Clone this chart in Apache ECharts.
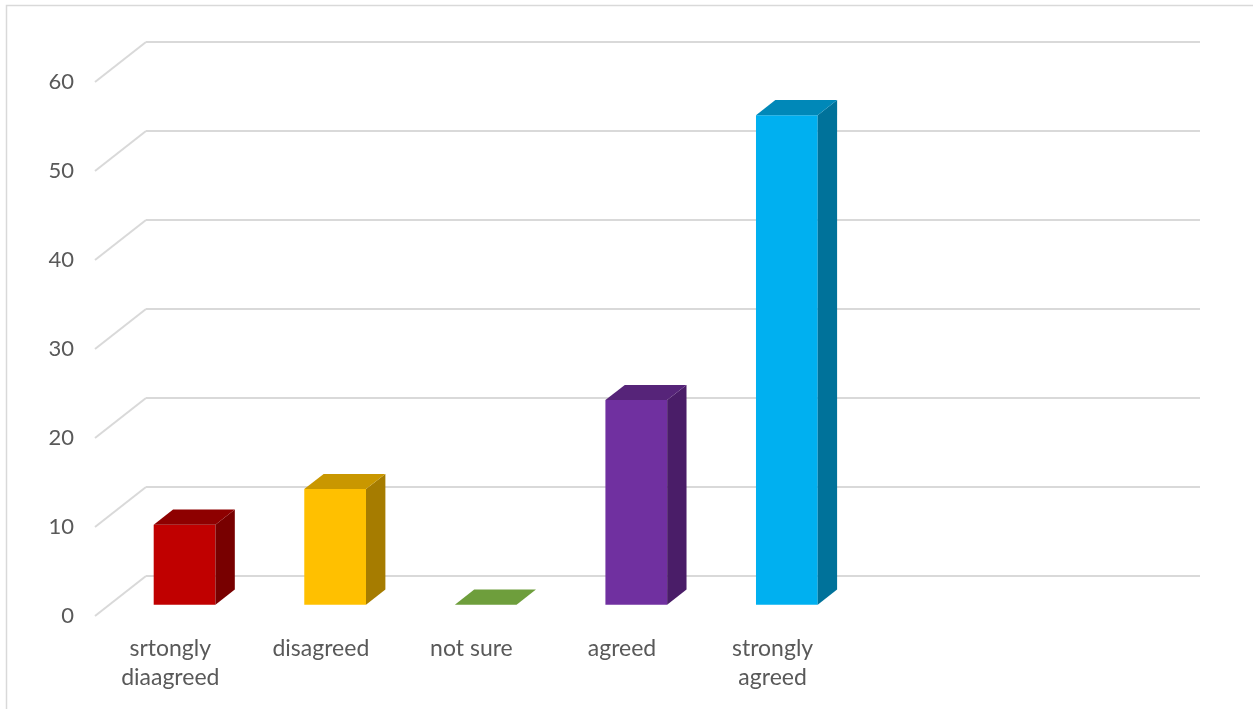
<!DOCTYPE html>
<html>
<head>
<meta charset="utf-8">
<style>
  html, body { margin: 0; padding: 0; background: #ffffff; }
  #chart { width: 1253px; height: 709px; }
</style>
<script src="https://cdn.jsdelivr.net/npm/echarts@6/dist/echarts.min.js"></script>
</head>
<body>
<div id="chart"></div>
<script>
// Survey responses (percent of respondents)
const categories = ['srtongly\ndiaagreed', 'disagreed', 'not sure', 'agreed', 'strongly\nagreed', '', ''];
const values = [9, 13, 0, 23, 55];
const yTicks = [0, 10, 20, 30, 40, 50, 60];

// Face colours per bar: front, top, side
const faceColors = [
  ['#C00000', '#8E0000', '#780000'],
  ['#FFC000', '#C99700', '#A67C00'],
  ['#70AD47', '#6E9E3C', '#5A8A32'],
  ['#7030A0', '#562479', '#4A1D68'],
  ['#00B0F0', '#0088B8', '#00729A']
];

// Oblique projection: offset from the back wall to the front edge of the floor
const DEPTH_DX = -51;
const DEPTH_DY = 40;
// Bar occupies this depth range (0 = back wall, 1 = front edge)
const BAR_NEAR = 0.72;
const BAR_FAR = 0.34;
const BAR_WIDTH_RATIO = 0.41;

const GRID_COLOR = '#d9d9d9';
const TEXT_COLOR = '#595959';
const FONT = 'Lato, "Liberation Sans", sans-serif';

const chart = echarts.init(document.getElementById('chart'));

function shift(pt, t) {
  return [pt[0] + DEPTH_DX * t, pt[1] + DEPTH_DY * t];
}

function renderBar(params, api) {
  const idx = api.value(0);
  const val = api.value(1);
  const top = api.coord([idx, val]);
  const base = api.coord([idx, 0]);
  const half = api.size([1, 0])[0] * BAR_WIDTH_RATIO / 2;
  const cols = faceColors[idx];

  const fl = shift([top[0] - half, top[1]], BAR_NEAR);
  const fr = shift([top[0] + half, top[1]], BAR_NEAR);
  const flb = shift([base[0] - half, base[1]], BAR_NEAR);
  const frb = shift([base[0] + half, base[1]], BAR_NEAR);
  const bl = shift([top[0] - half, top[1]], BAR_FAR);
  const br = shift([top[0] + half, top[1]], BAR_FAR);
  const brb = shift([base[0] + half, base[1]], BAR_FAR);

  const children = [];
  if (val > 0) {
    children.push({
      type: 'polygon',
      shape: { points: [flb, frb, fr, fl] },
      style: { fill: cols[0] }
    });
    children.push({
      type: 'polygon',
      shape: { points: [frb, brb, br, fr] },
      style: { fill: cols[2] }
    });
  }
  children.push({
    type: 'polygon',
    shape: { points: [fl, fr, br, bl] },
    style: { fill: cols[1] }
  });
  return { type: 'group', children: children };
}

function renderDiagonal(params, api) {
  const v = api.value(0);
  const p = api.coord([0, v]);
  const x0 = params.coordSys.x;
  return {
    type: 'line',
    shape: { x1: x0, y1: p[1], x2: x0 + DEPTH_DX, y2: p[1] + DEPTH_DY },
    style: { stroke: GRID_COLOR, lineWidth: 2 }
  };
}

const backGrid = { left: 146, right: 53, top: 42, bottom: 133 };
const frontGrid = {
  left: backGrid.left + DEPTH_DX,
  right: backGrid.right - DEPTH_DX,
  top: backGrid.top + DEPTH_DY,
  bottom: backGrid.bottom - DEPTH_DY
};

chart.setOption({
  animation: false,
  backgroundColor: '#ffffff',
  graphic: [{
    type: 'rect',
    shape: { x: 6.5, y: 5.5, width: 1300, height: 760 },
    style: { fill: 'none', stroke: GRID_COLOR, lineWidth: 1.5 },
    silent: true,
    z: -10
  }],
  grid: [backGrid, frontGrid],
  xAxis: [
    {
      gridIndex: 0, type: 'category', data: categories,
      show: false
    },
    {
      gridIndex: 1, type: 'category', data: categories,
      axisLine: { show: false }, axisTick: { show: false },
      axisLabel: {
        interval: 0, margin: 18, color: TEXT_COLOR, fontFamily: FONT,
        fontSize: 23, lineHeight: 29
      }
    }
  ],
  yAxis: [
    {
      gridIndex: 0, type: 'value', min: 0, max: 60, interval: 10,
      axisLine: { show: false }, axisTick: { show: false },
      axisLabel: { show: false },
      splitLine: { lineStyle: { color: GRID_COLOR, width: 2 } }
    },
    {
      gridIndex: 1, type: 'value', min: 0, max: 60, interval: 10,
      axisLine: { show: false }, axisTick: { show: false },
      splitLine: { show: false },
      axisLabel: { margin: 21, color: TEXT_COLOR, fontFamily: FONT, fontSize: 22 }
    }
  ],
  series: [
    {
      type: 'custom', xAxisIndex: 0, yAxisIndex: 0,
      renderItem: renderDiagonal,
      data: yTicks.map(v => [v]),
      silent: true, z: 1
    },
    {
      type: 'custom', xAxisIndex: 0, yAxisIndex: 0,
      renderItem: renderBar,
      data: values.map((v, i) => [i, v]),
      z: 5
    }
  ]
});
</script>
</body>
</html>
